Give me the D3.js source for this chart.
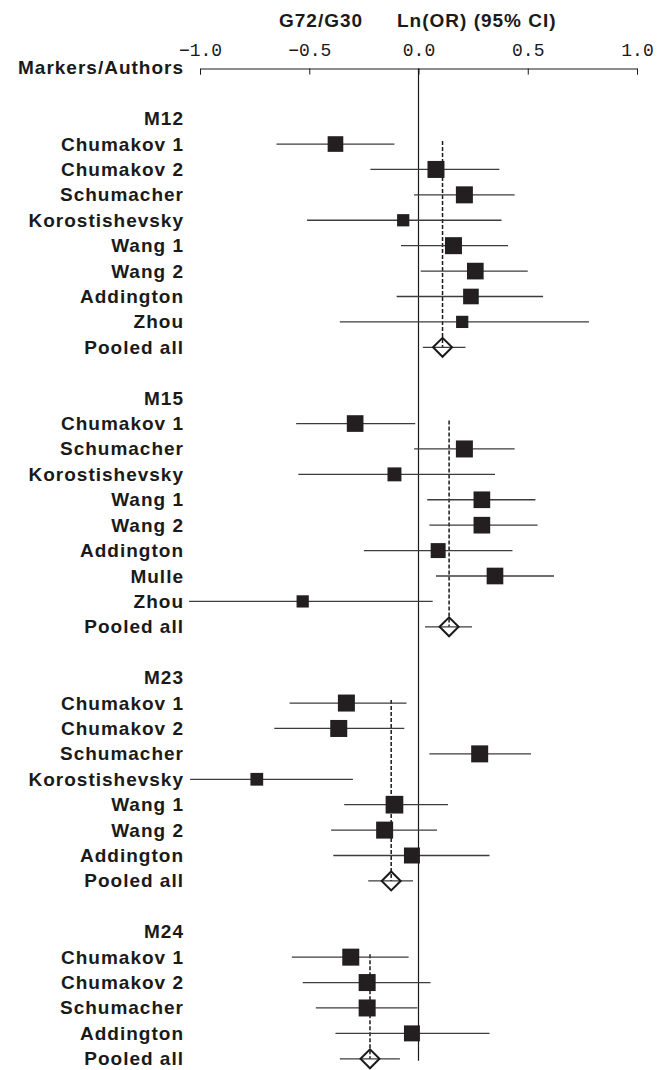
<!DOCTYPE html>
<html>
<head>
<meta charset="utf-8">
<script src="https://cdn.jsdelivr.net/npm/d3@7"></script>
<style>
  html, body { margin: 0; padding: 0; background: #fff; }
  svg { display: block; }
  .lbl { font-family: "Liberation Sans", Arial, sans-serif; font-weight: bold; font-size: 19px; letter-spacing: 1px; fill: #1a1a1a; }
  .tick text { font-family: "Liberation Mono", "DejaVu Sans Mono", monospace; font-size: 18px; fill: #1a1a1a; }
</style>
</head>
<body>
<svg id="chart" width="669" height="1070"></svg>
<script>
// Marker groups, in drawing order
const markers = ["M12", "M15", "M23", "M24"];

// M12 studies: Ln(OR) with 95% CI and relative study weight
const m12Authors = ["Chumakov 1", "Chumakov 2", "Schumacher", "Korostishevsky", "Wang 1", "Wang 2", "Addington", "Zhou"];
const m12Estimate = [-0.38, 0.08, 0.21, -0.07, 0.16, 0.26, 0.24, 0.20];
const m12Lower    = [-0.65, -0.22, -0.02, -0.51, -0.08, 0.01, -0.10, -0.36];
const m12Upper    = [-0.11, 0.37, 0.44, 0.38, 0.41, 0.50, 0.57, 0.78];
const m12Weight   = [0.92, 1.0, 1.0, 0.72, 1.0, 0.98, 0.92, 0.72];

// M15 studies
const m15Authors = ["Chumakov 1", "Schumacher", "Korostishevsky", "Wang 1", "Wang 2", "Addington", "Mulle", "Zhou"];
const m15Estimate = [-0.29, 0.21, -0.11, 0.29, 0.29, 0.09, 0.35, -0.53];
const m15Lower    = [-0.56, -0.02, -0.55, 0.04, 0.05, -0.25, 0.08, -1.05];
const m15Upper    = [-0.015, 0.44, 0.35, 0.535, 0.545, 0.43, 0.62, 0.065];
const m15Weight   = [0.98, 1.0, 0.82, 0.98, 0.98, 0.88, 0.98, 0.72];

// M23 studies
const m23Authors = ["Chumakov 1", "Chumakov 2", "Schumacher", "Korostishevsky", "Wang 1", "Wang 2", "Addington"];
const m23Estimate = [-0.33, -0.365, 0.28, -0.74, -0.11, -0.155, -0.03];
const m23Lower    = [-0.59, -0.66, 0.05, -1.045, -0.34, -0.40, -0.39];
const m23Upper    = [-0.055, -0.065, 0.515, -0.30, 0.135, 0.085, 0.325];
const m23Weight   = [1.0, 1.0, 1.0, 0.75, 1.04, 1.0, 0.94];

// M24 studies
const m24Authors = ["Chumakov 1", "Chumakov 2", "Schumacher", "Addington"];
const m24Estimate = [-0.31, -0.235, -0.235, -0.03];
const m24Lower    = [-0.58, -0.53, -0.47, -0.38];
const m24Upper    = [-0.045, 0.055, -0.005, 0.325];
const m24Weight   = [1.0, 1.0, 1.0, 0.94];

// Pooled estimates per marker
const pooledLabel = "Pooled all";
const pooledEstimate = [0.11, 0.14, -0.125, -0.222];
const pooledLower    = [0.02, 0.03, -0.23, -0.36];
const pooledUpper    = [0.215, 0.245, -0.025, -0.085];

// Axis ticks and headings
const tickValues = [-1.0, -0.5, 0.0, 0.5, 1.0];
const headerLeft = "Markers/Authors";
const titleParts = ["G72/G30", "Ln(OR) (95% CI)"];

const groups = [
  { name: markers[0], authors: m12Authors, est: m12Estimate, lo: m12Lower, hi: m12Upper, w: m12Weight },
  { name: markers[1], authors: m15Authors, est: m15Estimate, lo: m15Lower, hi: m15Upper, w: m15Weight },
  { name: markers[2], authors: m23Authors, est: m23Estimate, lo: m23Lower, hi: m23Upper, w: m23Weight },
  { name: markers[3], authors: m24Authors, est: m24Estimate, lo: m24Lower, hi: m24Upper, w: m24Weight }
];

// Lay out rows: header, studies, pooled, blank spacer
const rows = [];
let r = 0;
groups.forEach((g, gi) => {
  rows.push({ type: "header", row: r++, label: g.name });
  g.first = r;
  g.authors.forEach((a, i) => {
    rows.push({ type: "study", row: r++, label: a, est: g.est[i], lo: g.lo[i], hi: g.hi[i], w: g.w[i] });
  });
  g.pooledRow = r;
  rows.push({ type: "pooled", row: r++, label: pooledLabel, est: pooledEstimate[gi], lo: pooledLower[gi], hi: pooledUpper[gi] });
  r++;
});
const lastRow = r - 2;

const svg = d3.select("#chart");
const x = d3.scaleLinear().domain([-1, 1]).range([200, 637]);
const y = d3.scaleLinear().domain([-2, lastRow]).range([67.8, 67.8 + (lastRow + 2) * 25.41]);
const side = d3.scaleLinear().domain([0, 1]).range([0, 17]);
const axisY = 68.5;

// Title
svg.append("text").attr("class", "lbl").attr("x", 279).attr("y", 27).text(titleParts[0]);
svg.append("text").attr("class", "lbl").attr("x", 397).attr("y", 27).text(titleParts[1]);

// Top axis with ticks pointing down and labels above
const axis = d3.axisTop(x)
  .tickValues(tickValues)
  .tickFormat(d3.format(".1f"))
  .tickSizeInner(-6)
  .tickSizeOuter(-6)
  .tickPadding(13);
const gAxis = svg.append("g").attr("transform", `translate(0,${axisY})`).call(axis);
gAxis.selectAll("path, line").attr("stroke", "#1a1a1a").attr("stroke-width", 1);

// Reference line at zero
svg.append("line")
  .attr("x1", x(0)).attr("x2", x(0))
  .attr("y1", axisY).attr("y2", y(lastRow) + 2)
  .attr("stroke", "#1a1a1a").attr("stroke-width", 1.2);

// Row labels
const labelX = 184;
svg.append("text").attr("class", "lbl").attr("x", labelX).attr("y", y(-2))
  .attr("text-anchor", "end").attr("dominant-baseline", "central").text(headerLeft);
svg.selectAll("text.row").data(rows).join("text")
  .attr("class", "lbl row")
  .attr("x", labelX).attr("y", d => y(d.row))
  .attr("text-anchor", "end").attr("dominant-baseline", "central")
  .text(d => d.label);

// Dashed pooled-estimate guides
groups.forEach((g, gi) => {
  svg.append("line")
    .attr("x1", x(pooledEstimate[gi])).attr("x2", x(pooledEstimate[gi]))
    .attr("y1", y(g.first) - 3).attr("y2", y(g.pooledRow))
    .attr("stroke", "#1a1a1a").attr("stroke-width", 1.5)
    .attr("stroke-dasharray", "4,2");
});

// Confidence intervals
svg.selectAll("line.ci").data(rows.filter(d => d.type !== "header")).join("line")
  .attr("class", "ci")
  .attr("x1", d => x(d.lo)).attr("x2", d => x(d.hi))
  .attr("y1", d => y(d.row)).attr("y2", d => y(d.row))
  .attr("stroke", "#3c3c3c").attr("stroke-width", 1.3);

// Study squares sized by weight
svg.selectAll("rect.pt").data(rows.filter(d => d.type === "study")).join("rect")
  .attr("class", "pt")
  .attr("x", d => x(d.est) - side(d.w) / 2)
  .attr("y", d => y(d.row) - side(d.w) / 2)
  .attr("width", d => side(d.w)).attr("height", d => side(d.w))
  .attr("fill", "#231f20");

// Pooled diamonds
svg.selectAll("path.pool").data(rows.filter(d => d.type === "pooled")).join("path")
  .attr("class", "pool")
  .attr("d", d => {
    const cx = x(d.est), cy = y(d.row), h = 9.5;
    return `M${cx - h},${cy}L${cx},${cy - h}L${cx + h},${cy}L${cx},${cy + h}Z`;
  })
  .attr("fill", "none").attr("stroke", "#1a1a1a").attr("stroke-width", 2);
</script>
</body>
</html>
